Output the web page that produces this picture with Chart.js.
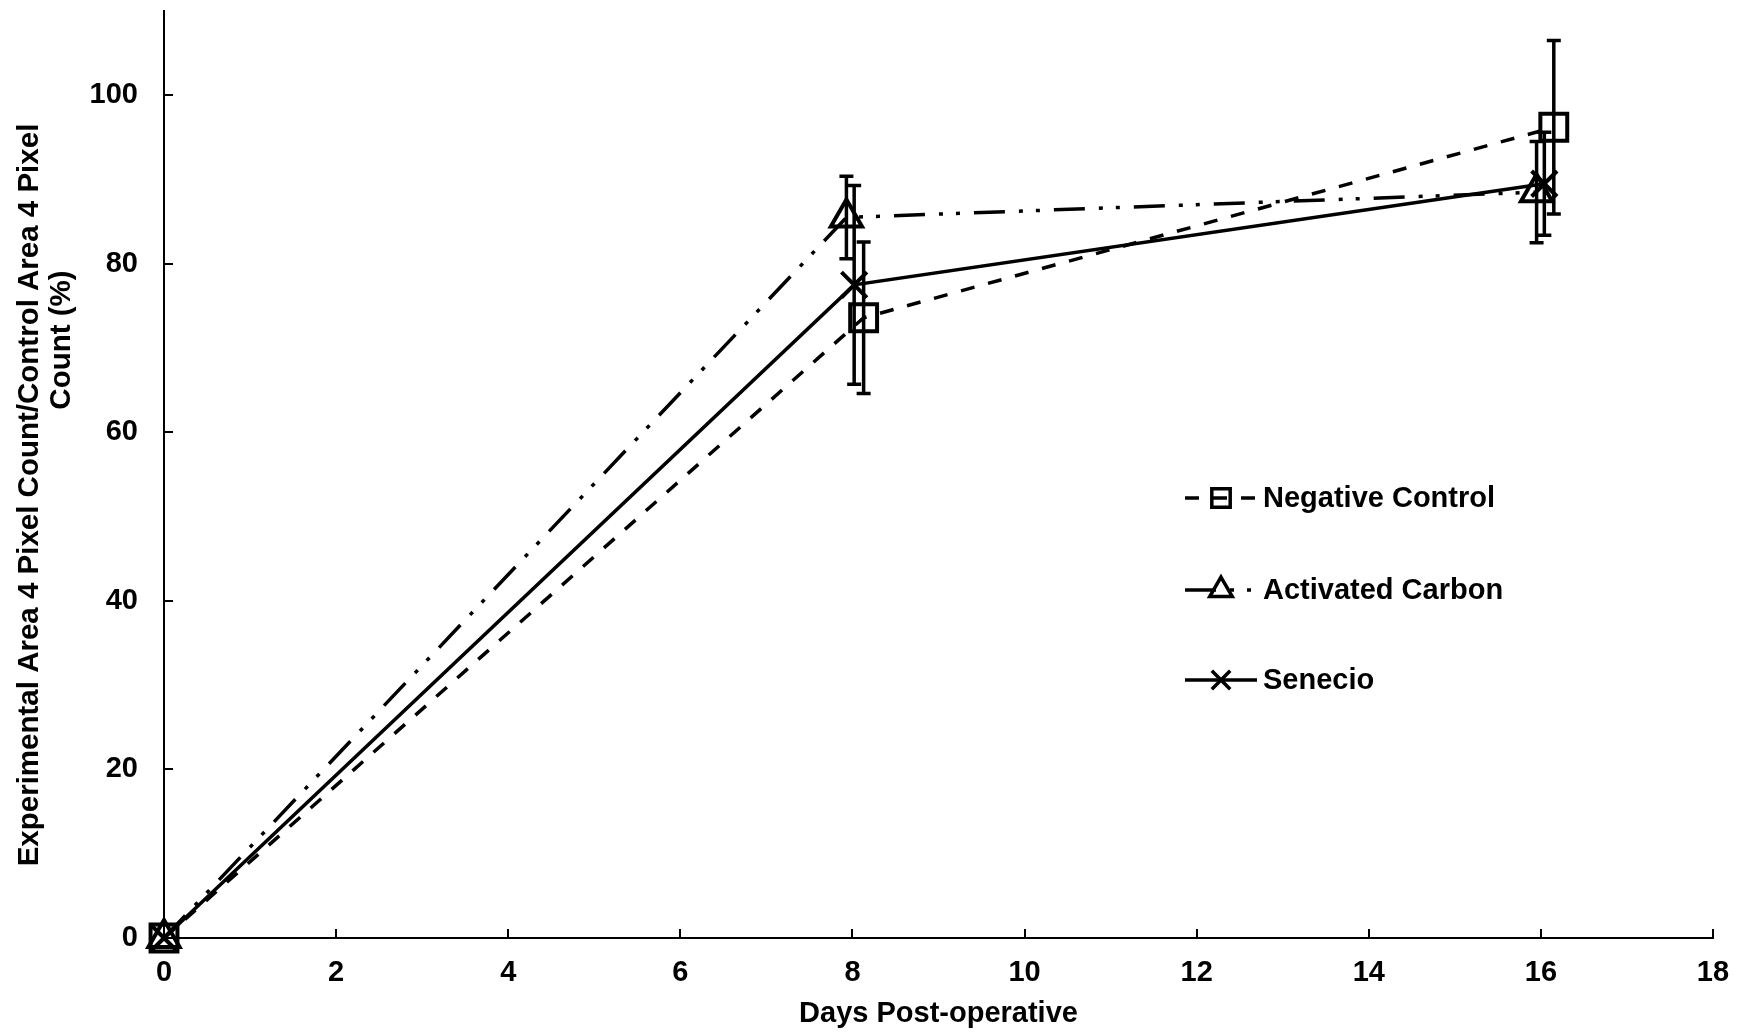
<!DOCTYPE html>
<html>
<head>
<meta charset="utf-8">
<title>Days Post-operative</title>
<script src="https://cdn.jsdelivr.net/npm/chart.js@4.4.0/dist/chart.umd.min.js"></script>
<style>
  html, body { margin: 0; padding: 0; background: #fff; }
  #wrap { width: 1748px; height: 1035px; }
</style>
</head>
<body>
<div id="wrap"><canvas id="pixelChart"></canvas></div>
<script>
// values (x is slightly offset per series, as in the original)
const negDays = [0, 8.13, 16.15];
const negMean = [0, 73.6, 96.2];
const negErr = [0, 9.0, 10.3];

const carbonDays = [0, 7.93, 15.95];
const carbonMean = [0, 85.5, 88.5];
const carbonErr = [0, 4.9, 6.0];

const senDays = [0, 8.02, 16.04];
const senMean = [0, 77.5, 89.5];
const senErr = [0, 11.8, 6.1];

const seriesNames = ['Negative Control', 'Activated Carbon', 'Senecio'];
const xTitle = 'Days Post-operative';
const yTitle = ['Experimental Area 4 Pixel Count/Control Area 4 Pixel', 'Count (%)'];

const FONT = '"Liberation Sans", Arial, sans-serif';
Chart.defaults.font.family = FONT;
Chart.defaults.font.weight = 'bold';
Chart.defaults.color = '#000';

function toPoints(xs, ys) {
  return xs.map((x, i) => ({ x: x, y: ys[i] }));
}

const errs = [negErr, carbonErr, senErr];

// inward tick marks
const innerTicks = {
  id: 'innerTicks',
  afterDraw(chart) {
    const ctx = chart.ctx, xs = chart.scales.x, ys = chart.scales.y;
    ctx.save();
    ctx.strokeStyle = '#000';
    ctx.lineWidth = 2;
    ctx.beginPath();
    xs.ticks.forEach(t => {
      const px = Math.round(xs.getPixelForValue(t.value));
      ctx.moveTo(px, ys.bottom);
      ctx.lineTo(px, ys.bottom - 9);
    });
    ys.ticks.forEach(t => {
      const py = Math.round(ys.getPixelForValue(t.value));
      ctx.moveTo(xs.left, py);
      ctx.lineTo(xs.left + 9, py);
    });
    ctx.stroke();
    ctx.restore();
  }
};

// error bars
const errorBars = {
  id: 'errorBars',
  afterDatasetsDraw(chart) {
    const ctx = chart.ctx, xs = chart.scales.x, ys = chart.scales.y;
    ctx.save();
    ctx.strokeStyle = '#000';
    ctx.lineWidth = 3.5;
    chart.data.datasets.forEach((ds, di) => {
      ds.data.forEach((p, i) => {
        const e = errs[di][i];
        if (!e) return;
        const px = xs.getPixelForValue(p.x);
        const top = ys.getPixelForValue(p.y + e);
        const bot = ys.getPixelForValue(p.y - e);
        ctx.beginPath();
        ctx.moveTo(px, top); ctx.lineTo(px, bot);
        ctx.moveTo(px - 7, top); ctx.lineTo(px + 7, top);
        ctx.moveTo(px - 7, bot); ctx.lineTo(px + 7, bot);
        ctx.stroke();
      });
    });
    ctx.restore();
  }
};

// legend with line + marker, like the original
const lineLegend = {
  id: 'lineLegend',
  afterDraw(chart) {
    const ctx = chart.ctx;
    const x0 = 1185, x1 = 1257, tx = 1263;
    const rows = [498, 590, 680];
    ctx.save();
    chart.data.datasets.forEach((ds, i) => {
      const y = rows[i];
      ctx.strokeStyle = '#000';
      ctx.lineWidth = ds.borderWidth;
      ctx.setLineDash(ds.borderDash || []);
      ctx.beginPath();
      ctx.moveTo(x0, y); ctx.lineTo(x1, y);
      ctx.stroke();
      ctx.setLineDash([]);
      ctx.lineWidth = 3.5;
      ctx.fillStyle = 'rgba(0,0,0,0)';
      Chart.helpers.drawPoint(ctx, { pointStyle: ds.pointStyle, radius: 13, borderWidth: 3.5 }, (x0 + x1) / 2, y);
      ctx.fillStyle = '#000';
      ctx.font = 'bold 29px ' + FONT;
      ctx.textAlign = 'left';
      ctx.textBaseline = 'middle';
      ctx.fillText(ds.label, tx, y + 1);
    });
    ctx.restore();
  }
};

// rotated y title (two lines, placed as in the original)
const yAxisTitle = {
  id: 'yAxisTitle',
  afterDraw(chart) {
    const ctx = chart.ctx;
    const pos = [[30, 495], [62, 340]];
    ctx.save();
    ctx.fillStyle = '#000';
    ctx.font = 'bold 29.5px ' + FONT;
    ctx.textAlign = 'center';
    ctx.textBaseline = 'middle';
    yTitle.forEach((line, i) => {
      ctx.save();
      ctx.translate(pos[i][0], pos[i][1]);
      ctx.rotate(-Math.PI / 2);
      ctx.fillText(line, 0, 0);
      ctx.restore();
    });
    ctx.restore();
  }
};

const ctx = document.getElementById('pixelChart').getContext('2d');
new Chart(ctx, {
  type: 'scatter',
  data: {
    datasets: [
      {
        label: seriesNames[0],
        data: toPoints(negDays, negMean),
        showLine: true,
        borderColor: '#000',
        borderWidth: 3.5,
        borderDash: [14, 14],
        pointStyle: 'rect',
        pointRadius: 19,
        pointBorderWidth: 4,
        pointBorderColor: '#000',
        pointBackgroundColor: 'rgba(0,0,0,0)',
        clip: false
      },
      {
        label: seriesNames[1],
        data: toPoints(carbonDays, carbonMean),
        showLine: true,
        borderColor: '#000',
        borderWidth: 3.5,
        borderDash: [31, 14, 4, 13, 4, 14],
        pointStyle: 'triangle',
        pointRadius: 18,
        pointBorderWidth: 4,
        pointBorderColor: '#000',
        pointBackgroundColor: 'rgba(0,0,0,0)',
        clip: false
      },
      {
        label: seriesNames[2],
        data: toPoints(senDays, senMean),
        showLine: true,
        borderColor: '#000',
        borderWidth: 3.5,
        pointStyle: 'crossRot',
        pointRadius: 18,
        pointBorderWidth: 4,
        pointBorderColor: '#000',
        pointBackgroundColor: 'rgba(0,0,0,0)',
        clip: false
      }
    ]
  },
  options: {
    responsive: true,
    maintainAspectRatio: false,
    animation: false,
    layout: { autoPadding: false, padding: { top: 11, right: 35, left: 0, bottom: 0 } },
    plugins: {
      legend: { display: false },
      tooltip: { enabled: false }
    },
    scales: {
      x: {
        type: 'linear',
        min: 0,
        max: 18,
        ticks: { stepSize: 2, padding: 18, maxRotation: 0, font: { size: 29, weight: 'bold' } },
        grid: { display: false, drawTicks: false },
        border: { display: true, color: '#000', width: 2 },
        title: { display: true, text: xTitle, font: { size: 29, weight: 'bold' }, padding: { top: 0, bottom: 4 } },
        afterFit(scale) { scale.height = 97; }
      },
      y: {
        type: 'linear',
        min: 0,
        max: 110,
        ticks: { stepSize: 20, includeBounds: false, padding: 26, font: { size: 29, weight: 'bold' } },
        grid: { display: false, drawTicks: false },
        border: { display: true, color: '#000', width: 2 },
        afterFit(scale) {
          scale.width = 164;
          scale.paddingTop = 0;
          scale.paddingBottom = 0;
        }
      }
    }
  },
  plugins: [innerTicks, errorBars, lineLegend, yAxisTitle]
});
</script>
</body>
</html>
